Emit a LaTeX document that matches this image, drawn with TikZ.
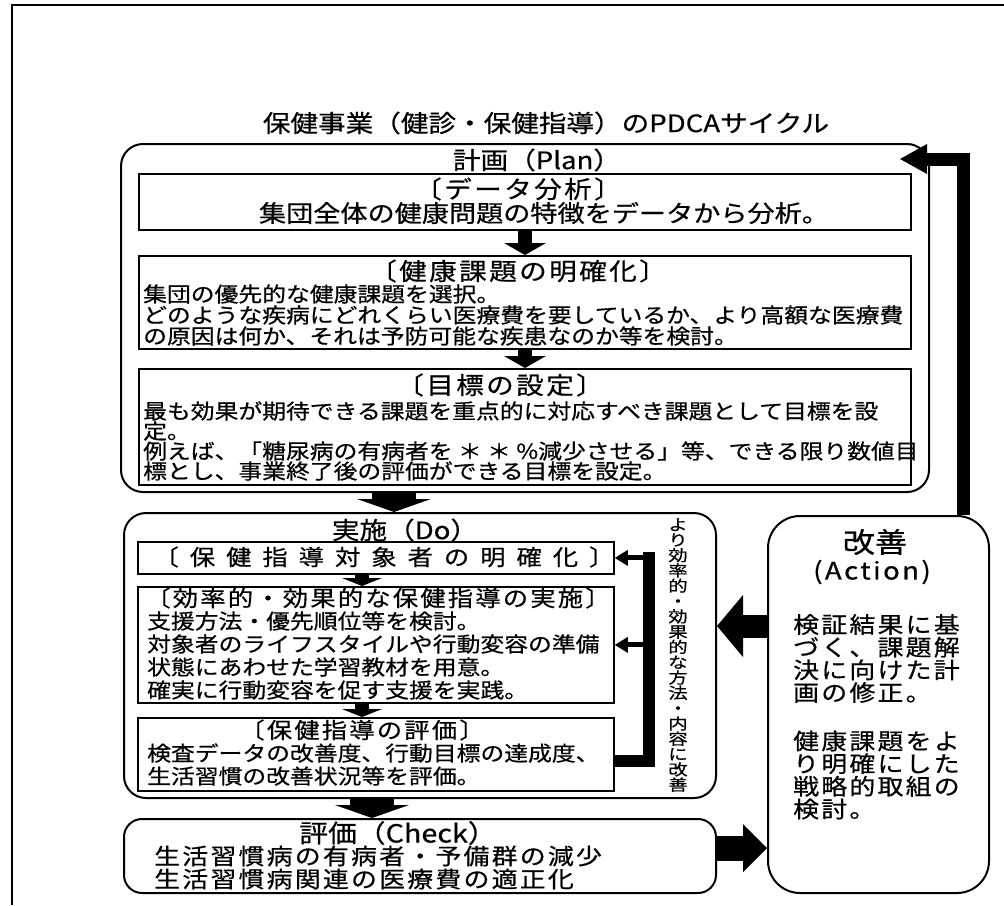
\documentclass[tikz,border=0pt]{standalone}
\usepackage{fontspec}
\setmainfont{Noto Sans CJK JP}
\newfontfamily\jp[FakeStretch=1.15,FakeBold=0.6]{Noto Sans CJK JP}
\newfontfamily\jpS[FakeStretch=1.15,FakeBold=0.6,LetterSpace=10]{Noto Sans CJK JP}
\newfontfamily\jpW[FakeStretch=1.15,FakeBold=0.6,LetterSpace=50]{Noto Sans CJK JP}
\newfontfamily\jpV[FakeStretch=1.25,FakeBold=0.6]{Noto Sans CJK JP}
\usetikzlibrary{arrows.meta}
\newcommand\fzTitle{\jp\fontsize{24pt}{26pt}\selectfont}
\newcommand\fzLabel{\jp\fontsize{24pt}{26pt}\selectfont}
\newcommand\fzHead{\jpS\fontsize{24pt}{26pt}\selectfont}
\newcommand\fzData{\jp\fontsize{23.6pt}{25pt}\selectfont}
\newcommand\fzBody{\jp\fontsize{20.7pt}{21pt}\selectfont}
\newcommand\fzBodyT{\jp\fontsize{20.7pt}{20pt}\selectfont}
\newcommand\fzBodyD{\jp\fontsize{20.7pt}{23pt}\selectfont}
\newcommand\fzHeadS{\jpS\fontsize{22pt}{24pt}\selectfont}
\newcommand\fzWide{\jpW\fontsize{22pt}{24pt}\selectfont}
\newcommand\fzCheckL{\jp\fontsize{25pt}{27pt}\selectfont}
\newcommand\fzCheck{\jpS\fontsize{22.5pt}{23pt}\selectfont}
\newcommand\fzActH{\jp\fontsize{28pt}{30pt}\selectfont}
\newcommand\fzActL{\jpS\fontsize{24pt}{26pt}\selectfont}
\newcommand\fzAct{\jpS\fontsize{22.5pt}{22.7pt}\selectfont}
\newcommand\fzVert{\jpV\fontsize{15.5pt}{15.3pt}\selectfont}
\begin{document}
\begin{tikzpicture}[x=1pt,y=-1pt,
  bx/.style={draw, line width=1.8pt, inner sep=0pt, anchor=north west},
  ob/.style={bx, line width=2pt, rounded corners=22pt},
  txt/.style={inner sep=0pt, text=black},
  sarr/.style={line width=14pt, -{Triangle[length=12pt,width=42pt,line width=0pt]}},
  dsarr/.style={line width=14pt, -{Triangle[length=8pt,width=40pt,line width=0pt]}},
  blk/.style={line width=44pt, -{Triangle[length=13pt,width=74pt,line width=0pt]}},
  harrA/.style={line width=23pt, -{Triangle[length=26pt,width=62pt,line width=0pt]}},
  harrB/.style={line width=25pt, -{Triangle[length=24pt,width=48pt,line width=0pt]}},
  rarr/.style={line width=13pt, -{Triangle[length=27pt,width=30pt,line width=0pt]}},
  barr/.style={line width=5pt, -{Triangle[length=13pt,width=16pt,line width=0pt]}}
]
\useasboundingbox (0,0) rectangle (1004,905);
\draw[line width=1.5pt] (12,905) -- (12,5) -- (1004,5);

\node[txt, font=\fzTitle] (title) at (546,123) {保健事業（健診・保健指導）のPDCAサイクル};

% Plan
\node[ob, minimum width=808pt, minimum height=348pt] (plan) at (120,143) {};
\node[txt, font=\fzLabel] (planlbl) at (537,160) {計画（Plan）};
\node[bx, minimum width=772pt, minimum height=56pt] (data) at (138,173) {};
\node[txt, font=\fzHead] (datah) at (518,189) {〔データ分析〕};
\node[txt, font=\fzData] (datab) at (544,213) {集団全体の健康問題の特徴をデータから分析。};
\node[bx, minimum width=772pt, minimum height=93pt] (health) at (138,255) {};
\node[txt, font=\fzHead] (healthh) at (518,271) {〔健康課題の明確化〕};
\node[txt, font=\fzBody, align=left, anchor=west] (healthb) at (143,315)
  {集団の優先的な健康課題を選択。\\どのような疾病にどれくらい医療費を要しているか、より高額な医療費\\の原因は何か、それは予防可能な疾患なのか等を検討。};
\node[bx, minimum width=772pt, minimum height=116pt] (goal) at (138,368) {};
\node[txt, font=\fzHead] (goalh) at (500,385) {〔目標の設定〕};
\node[txt, font=\fzBodyT, align=left, anchor=west] (goalb) at (143,441)
  {最も効果が期待できる課題を重点的に対応すべき課題として目標を設\\定。\\例えば、「糖尿病の有病者を ＊ ＊ \%減少させる」等、できる限り数値目\\標とし、事業終了後の評価ができる目標を設定。};

% Do
\node[ob, minimum width=592pt, minimum height=285pt] (dobox) at (123,512) {};
\node[txt, font=\fzLabel] (dolbl) at (405,530) {実施（Do）};
\node[bx, minimum width=476pt, minimum height=32pt] (boxA) at (137,541) {};
\node[txt, font=\fzWide] (boxAh) at (384,557) {〔保健指導対象者の明確化〕};
\node[bx, minimum width=476pt, minimum height=116pt] (boxB) at (137,586) {};
\node[txt, font=\fzHeadS] (boxBh) at (378,598) {〔効率的・効果的な保健指導の実施〕};
\node[txt, font=\fzBodyD, align=left, anchor=west] (boxBb) at (147,655.5)
  {支援方法・優先順位等を検討。\\対象者のライフスタイルや行動変容の準備\\状態にあわせた学習教材を用意。\\確実に行動変容を促す支援を実践。};
\node[bx, minimum width=476pt, minimum height=73pt] (boxC) at (137,717) {};
\node[txt, font=\fzHeadS] (boxCh) at (362,730) {〔保健指導の評価〕};
\node[txt, font=\fzBodyD, align=left, anchor=west] (boxCb) at (147,764.5)
  {検査データの改善度、行動目標の達成度、\\生活習慣の改善状況等を評価。};
\node[txt, font=\fzVert, align=center] (vtext) at (678,655)
  {よ\\り\\効\\率\\的\\・\\効\\果\\的\\な\\方\\法\\・\\内\\容\\に\\改\\善};

% Check
\node[ob, rounded corners=18pt, minimum width=592pt, minimum height=74pt] (check) at (123,818) {};
\node[txt, font=\fzCheckL] (checklbl) at (398,833) {評価（Check）};
\node[txt, font=\fzCheck, align=left, anchor=west] (checkb) at (154,867.5)
  {生活習慣病の有病者・予備群の減少\\生活習慣病関連の医療費の適正化};

% Action
\node[ob, rounded corners=32pt, minimum width=221pt, minimum height=377pt] (act) at (767,515) {};
\node[txt, font=\fzActH] (acth) at (875,542) {改善};
\node[txt, font=\fzActL] (actl) at (872,572) {(Action)};
\node[txt, font=\fzAct, align=left, anchor=west] (actb1) at (793,658.5)
  {検証結果に基\\づく、課題解\\決に向けた計\\画の修正。};
\node[txt, font=\fzAct, align=left, anchor=west] (actb2) at (793,775)
  {健康課題をよ\\り明確にした\\戦略的取組の\\検討。};

% connectors
\coordinate (xa) at (525,0);
\coordinate (xb) at (394,0);
\coordinate (xc) at (362,0);
\coordinate (xd) at (372,0);
\draw[sarr] (data.south -| xa) -- (health.north -| xa);
\draw[sarr] (health.south -| xa) -- (goal.north -| xa);
\draw[blk] (plan.south -| xb) -- (dobox.north -| xb);
\draw[dsarr] (boxA.south -| xc) -- (boxB.north -| xc);
\draw[dsarr] (boxB.south -| xc) -- (boxC.north -| xc);
\draw[blk] (dobox.south -| xd) -- (check.north -| xd);

\coordinate (ya) at (0,626);
\coordinate (yb) at (0,848);
\draw[harrA] (act.west |- ya) -- (dobox.east |- ya);
\draw[harrB] (check.east |- yb) -- (act.west |- yb);

\coordinate (xr) at (963.5,0);
\coordinate (rtip) at (900,159);
\draw[rarr] (act.north -| xr) |- (rtip);

\coordinate (bxr) at (649,0);
\coordinate (byb) at (0,761);
\coordinate (byt) at (0,552);
\draw[line width=12pt] (boxC.east |- byb) -| (bxr |- byt);
\draw[barr] (bxr |- boxA.east) -- (boxA.east);
\draw[barr] (bxr |- boxB.east) -- (boxB.east);
\end{tikzpicture}
\end{document}
